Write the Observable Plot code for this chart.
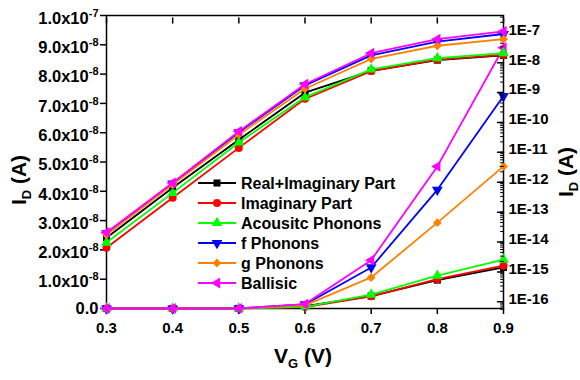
<!DOCTYPE html>
<html>
<head>
<meta charset="utf-8">
<script src="https://cdn.jsdelivr.net/npm/d3@7"></script>
<script src="https://cdn.jsdelivr.net/npm/@observablehq/plot@0.6"></script>
<style>
  body { margin: 0; background: #fff; }
  #chart { position: relative; width: 580px; height: 380px; font-family: "Liberation Sans", Arial, sans-serif; }
  #chart svg { position: absolute; left: 0; top: 0; }
</style>
</head>
<body>
<div id="chart"></div>
<script>
// ---- data ----
const vg = [0.3, 0.4, 0.5, 0.6, 0.7, 0.8, 0.9];
const seriesNames = ["Real+Imaginary Part", "Imaginary Part", "Acousitc Phonons", "f Phonons", "g Phonons", "Ballisic"];
const realImag  = [1.1e-14, 5.2e-13, 2.1e-11, 7.9e-10, 4.25e-9, 0.97e-8, 1.40e-8];
const imagPart  = [5.1e-15, 2.4e-13, 1.12e-11, 4.9e-10, 4.15e-9, 1.00e-8, 1.46e-8];
const acoustic  = [7.6e-15, 3.5e-13, 1.7e-11, 5.5e-10, 4.75e-9, 1.12e-8, 1.67e-8];
const fPhonons  = [1.55e-14, 7.1e-13, 3.7e-11, 1.38e-9, 1.40e-8, 4.05e-8, 7.25e-8];
const gPhonons  = [1.38e-14, 6.6e-13, 3.1e-11, 1.07e-9, 1.06e-8, 2.93e-8, 4.85e-8];
const ballistic = [1.66e-14, 7.6e-13, 4.0e-11, 1.51e-9, 1.65e-8, 4.85e-8, 8.9e-8];
const seriesValues = [realImag, imagPart, acoustic, fPhonons, gPhonons, ballistic];

const xTickValues = [0.3, 0.4, 0.5, 0.6, 0.7, 0.8, 0.9];
const leftTickValues = [0, 1e-8, 2e-8, 3e-8, 4e-8, 5e-8, 6e-8, 7e-8, 8e-8, 9e-8, 1e-7];
const rightTickValues = [1e-16, 1e-15, 1e-14, 1e-13, 1e-12, 1e-11, 1e-10, 1e-9, 1e-8, 1e-7];

// ---- styling ----
const colors = ["#000000", "#ff0000", "#00ff00", "#0000ff", "#ff8000", "#ff00ff"];
const sqrt3 = Math.sqrt(3);
const triDown = { draw(ctx, size) { const y = -Math.sqrt(size / (sqrt3 * 3)); ctx.moveTo(0, -y * 2); ctx.lineTo(-sqrt3 * y, y); ctx.lineTo(sqrt3 * y, y); ctx.closePath(); } };
const triLeft = { draw(ctx, size) { const y = -Math.sqrt(size / (sqrt3 * 3)); ctx.moveTo(y * 2, 0); ctx.lineTo(-y, -sqrt3 * y); ctx.lineTo(-y, sqrt3 * y); ctx.closePath(); } };
const symbols = [d3.symbolSquare, d3.symbolCircle, d3.symbolTriangle, triDown, d3.symbolDiamond2, triLeft];
const tickDown = { draw(ctx, l) { ctx.moveTo(0, 0); ctx.lineTo(0, l); } };
const tickLeft = { draw(ctx, l) { ctx.moveTo(0, 0); ctx.lineTo(-l, 0); } };

const W = 580, H = 380;
const layout = { width: W, height: H, marginLeft: 106, marginRight: 77, marginTop: 15, marginBottom: 72 };
const plotStyle = { background: "transparent", fontFamily: "'Liberation Sans', Arial, sans-serif", fontSize: "15px", fontWeight: "bold", color: "black", overflow: "visible" };

function seriesMarks() {
  return seriesNames.flatMap((name, i) => {
    const rows = vg.map((x, j) => ({ vg: x, id: seriesValues[i][j], series: name }));
    return [
      Plot.line(rows, { x: "vg", y: "id", stroke: colors[i], strokeWidth: 1.8 }),
      Plot.dot(rows, { x: "vg", y: "id", symbol: symbols[i], r: 4, fill: colors[i], stroke: "none" })
    ];
  });
}

const leftFmt = d => {
  if (d === 0) return "0.0";
  const [m, e] = d.toExponential(1).split("e");
  return m + "x10^" + (+e);
};

// linear (left axis) layer
const svgLin = Plot.plot({
  ...layout, style: plotStyle,
  x: { domain: [0.3, 0.9] },
  y: { domain: [0, 1e-7] },
  marks: [
    Plot.frame({ stroke: "black", strokeWidth: 1.5 }),
    Plot.axisX({ ticks: xTickValues, tickFormat: d => d.toFixed(1), tickSize: 6, tickPadding: 8, strokeWidth: 1.5, label: null }),
    Plot.vector(xTickValues, { x: d => d, frameAnchor: "top", length: 5, shape: tickDown, stroke: "black", strokeWidth: 1.5 }),
    Plot.axisY({ ticks: leftTickValues, tickFormat: leftFmt, tickSize: 6, tickPadding: 2, strokeWidth: 1.5, fontSize: 16.5, label: null }),
    ...seriesMarks()
  ]
});

// log (right axis) layer
const logDomain = [Math.pow(10, -16.325), Math.pow(10, -6.521)];
const minorTicks = d3.scaleLog().domain(logDomain).ticks().filter(v => !rightTickValues.some(t => Math.abs(t - v) / t < 1e-6));
const svgLog = Plot.plot({
  ...layout, style: plotStyle,
  x: { domain: [0.3, 0.9], axis: null },
  y: { type: "log", domain: logDomain },
  marks: [
    Plot.axisY({ anchor: "right", ticks: rightTickValues, tickFormat: d => "1E" + Math.round(Math.log10(d)), tickSize: 0, tickPadding: 5, label: null }),
    Plot.vector(rightTickValues, { y: d => d, frameAnchor: "right", length: 6, shape: tickLeft, stroke: "black", strokeWidth: 1.5 }),
    Plot.vector(minorTicks, { y: d => d, frameAnchor: "right", length: 3, shape: tickLeft, stroke: "black", strokeWidth: 1 }),
    ...seriesMarks()
  ]
});

const chart = document.getElementById("chart");
chart.appendChild(svgLin);
chart.appendChild(svgLog);

// superscripts on the left tick labels
d3.select(svgLin).selectAll('g[aria-label="y-axis tick label"] text').each(function () {
  const t = this.textContent;
  const i = t.indexOf("^");
  if (i < 0) return;
  const sel = d3.select(this);
  sel.text(t.slice(0, i));
  sel.append("tspan").attr("dy", -7).style("font-size", "11px").text(t.slice(i + 1));
  const tr = this.getAttribute("transform") || "";
  this.setAttribute("transform", tr + " translate(0,3)");
});

// axis titles and legend
const overlay = d3.select(svgLog);
function title(transform, main, sub, rest) {
  const t = overlay.append("text").attr("transform", transform).attr("text-anchor", "middle")
    .style("font-size", "21px").style("font-weight", "bold").attr("fill", "black");
  t.append("tspan").text(main);
  t.append("tspan").attr("dy", 5).style("font-size", "13px").text(sub);
  t.append("tspan").attr("dy", -5).text("\u00a0" + rest);
}
title("translate(26,180) rotate(-90)", "I", "D", "(A)");
title("translate(573,172) rotate(-90)", "I", "D", "(A)");
title("translate(303,363)", "V", "G", "(V)");

const legend = overlay.append("g");
seriesNames.forEach((name, i) => {
  const y = 183 + 20 * i;
  const g = legend.append("g").attr("transform", `translate(0,${y})`);
  g.append("line").attr("x1", 198).attr("x2", 236).attr("y1", 0).attr("y2", 0).attr("stroke", colors[i]).attr("stroke-width", 1.8);
  g.append("path").attr("transform", "translate(217,0)").attr("d", d3.symbol(symbols[i], Math.PI * 16)()).attr("fill", colors[i]);
  g.append("text").attr("x", 241).attr("y", 5.6).attr("text-anchor", "start").style("font-size", "16px").style("font-weight", "bold").attr("fill", "black").text(name);
});
</script>
</body>
</html>
